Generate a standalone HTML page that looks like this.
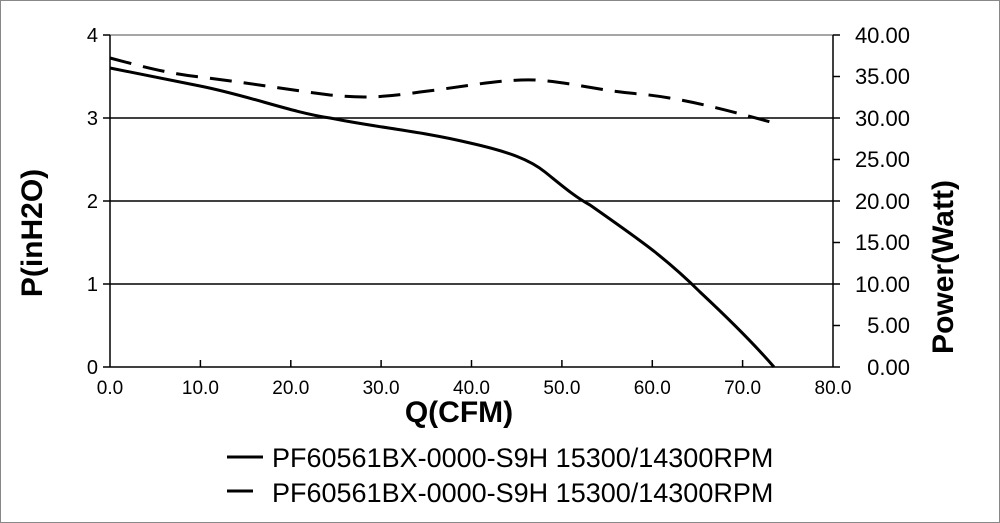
<!DOCTYPE html><html><head><style>body{margin:0;background:#fff}svg{display:block}text{font-family:"Liberation Sans",Arial,sans-serif;fill:#000}</style></head><body>
<svg width="1000" height="523" viewBox="0 0 1000 523">
<rect x="0.5" y="0.5" width="999" height="522" fill="#fff" stroke="#888"/>
<line x1="110" y1="35" x2="833" y2="35" stroke="#888" stroke-width="1.5"/>
<g stroke="#000" stroke-width="1.5">
<line x1="110" y1="118" x2="833" y2="118"/><line x1="110" y1="201" x2="833" y2="201"/><line x1="110" y1="284" x2="833" y2="284"/>
<line x1="110" y1="367" x2="833" y2="367"/>
<line x1="110" y1="35" x2="110" y2="367"/><line x1="833" y1="35" x2="833" y2="367"/>
<line x1="103" y1="35" x2="110" y2="35"/><line x1="103" y1="118" x2="110" y2="118"/><line x1="103" y1="201" x2="110" y2="201"/><line x1="103" y1="284" x2="110" y2="284"/><line x1="103" y1="367" x2="110" y2="367"/>
<line x1="833" y1="35" x2="840" y2="35"/><line x1="833" y1="76.5" x2="840" y2="76.5"/><line x1="833" y1="118" x2="840" y2="118"/><line x1="833" y1="159.5" x2="840" y2="159.5"/><line x1="833" y1="201" x2="840" y2="201"/><line x1="833" y1="242.5" x2="840" y2="242.5"/><line x1="833" y1="284" x2="840" y2="284"/><line x1="833" y1="325.5" x2="840" y2="325.5"/><line x1="833" y1="367" x2="840" y2="367"/>
<line x1="200.4" y1="360" x2="200.4" y2="367"/><line x1="290.8" y1="360" x2="290.8" y2="367"/><line x1="381.1" y1="360" x2="381.1" y2="367"/><line x1="471.5" y1="360" x2="471.5" y2="367"/><line x1="561.9" y1="360" x2="561.9" y2="367"/><line x1="652.3" y1="360" x2="652.3" y2="367"/><line x1="742.6" y1="360" x2="742.6" y2="367"/>
</g>
<path d="M110,68 C150,76 180,82 200,86 C250,96 290,112 330,118 C380,128 420,131 470,143 C510,152 530,160 545,172 C560,184 575,197 590,205 C620,226 640,240 655,252 C675,268 690,282 700,292 C730,320 755,345 774,367" fill="none" stroke="#000" stroke-width="3"/>
<path d="M110,58 C140,66 170,74 200,77 C250,83 290,90 330,95 C360,98 380,98 420,92 C470,86 500,79 535,80 C570,82 600,91 640,94 C680,98 720,108 774,123" fill="none" stroke="#000" stroke-width="3" stroke-dasharray="22,12"/>
<g font-size="20" text-anchor="end">
<text x="98" y="42">4</text><text x="98" y="125">3</text><text x="98" y="208">2</text><text x="98" y="291">1</text><text x="98" y="374">0</text>
</g>
<g font-size="22" text-anchor="end">
<text x="910" y="43">40.00</text><text x="910" y="84">35.00</text><text x="910" y="126">30.00</text><text x="910" y="167">25.00</text><text x="910" y="209">20.00</text><text x="910" y="250">15.00</text><text x="910" y="292">10.00</text><text x="910" y="333">5.00</text><text x="910" y="375">0.00</text>
</g>
<g font-size="19" text-anchor="middle">
<text x="110" y="394">0.0</text><text x="200.4" y="394">10.0</text><text x="290.8" y="394">20.0</text><text x="381.1" y="394">30.0</text><text x="471.5" y="394">40.0</text><text x="561.9" y="394">50.0</text><text x="652.3" y="394">60.0</text><text x="742.6" y="394">70.0</text><text x="833" y="394">80.0</text>
</g>
<text x="459" y="422" font-size="30" font-weight="bold" text-anchor="middle">Q(CFM)</text>
<text transform="translate(42,233) rotate(-90)" font-size="30" font-weight="bold" text-anchor="middle">P(inH2O)</text>
<text transform="translate(953,267) rotate(-90)" font-size="30" font-weight="bold" text-anchor="middle">Power(Watt)</text>
<line x1="227" y1="457" x2="263" y2="457" stroke="#000" stroke-width="3"/>
<text x="272" y="467" font-size="27">PF60561BX-0000-S9H 15300/14300RPM</text>
<line x1="227" y1="491" x2="253" y2="491" stroke="#000" stroke-width="3"/>
<text x="272" y="502" font-size="27">PF60561BX-0000-S9H 15300/14300RPM</text>
</svg></body></html>
